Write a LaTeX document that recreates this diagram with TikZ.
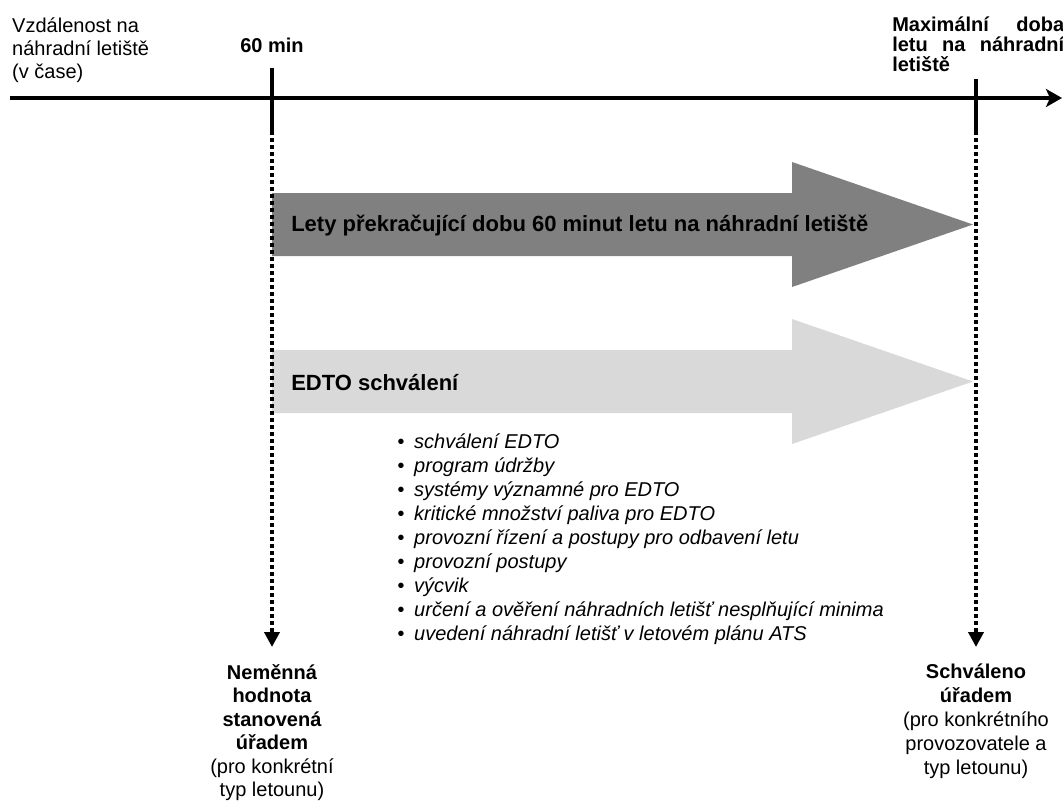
\documentclass[tikz,border=0pt]{standalone}
\usepackage{fontspec}
\setmainfont{Liberation Sans}
\usetikzlibrary{arrows.meta,positioning}
\definecolor{darkbar}{RGB}{128,128,128}
\definecolor{lightbar}{RGB}{217,217,217}

\begin{document}
\begin{tikzpicture}[x=1pt,y=-1pt,line width=4.5pt]
        \tikzstyle{note}=[inner sep=0pt, font=\fontsize{20}{24}\selectfont]
        \tikzstyle{bold note}=[note, font=\fontsize{20}{24}\selectfont\bfseries]
        \tikzstyle{bar text}=[inner sep=0pt, anchor=base west, font=\fontsize{22}{26}\selectfont\bfseries]
        \tikzstyle{list item}=[inner sep=0pt, anchor=base west, font=\fontsize{20}{24}\selectfont\itshape]
        \tikzstyle{dots}=[line width=4pt, dash pattern=on 4pt off 3pt, -{Triangle[length=15pt,width=15pt]}]
        \useasboundingbox (0,0) rectangle (1063,801);

        % Draw the two wide arrows
        \foreach \y/\shade in {224.5/darkbar, 381.5/lightbar}
            \fill[\shade] (272,\y-31.5) -- (792,\y-31.5) -- (792,\y-62.5) -- (973,\y)
                -- (792,\y+62.5) -- (792,\y+31.5) -- (272,\y+31.5) -- cycle;
        \node[bar text] (bar-1) at (289,231) {Lety překračující dobu 60 minut letu na náhradní letiště};
        \node[bar text] (bar-2) at (289,390) {EDTO schválení};

        % Draw the time axis and its marks
        \coordinate (axis-0) at (10,98);
        \coordinate (axis-1) at (1062,98);
        \draw[-{Stealth[length=16pt,width=18pt,inset=4pt]}] (axis-0) -- (axis-1);
        \coordinate (mark-1) at (272,68);
        \coordinate (tick-1) at (272,131);
        \coordinate (mark-2) at (976,79);
        \coordinate (tick-2) at (976,131);
        \draw (mark-1) -- (tick-1);
        \draw (mark-2) -- (tick-2);

        % Annotate the axis
        \node[note, anchor=north west, align=left, font=\fontsize{20}{23}\selectfont] (dist) at (10,16)
            {Vzdálenost na\\ náhradní letiště\\ (v čase)};
        \node[bold note, anchor=base] (m60) at (272,52) {60 min};
        \node[bold note, anchor=north west, text width=172pt, align=left, font=\fontsize{20}{20}\selectfont\bfseries] (maxd) at (890,15)
            {Maximální\hfill doba\\ letu\hfill na\hfill náhradní\\ letiště};

        % Dotted lines down to the notes
        \coordinate (tip-1) at (272,647);
        \coordinate (tip-2) at (976,647);
        \draw[dots] (tick-1) -- (tip-1);
        \draw[dots] (tick-2) -- (tip-2);
        \node[note, anchor=north, align=center, font=\fontsize{20}{23.5}\selectfont] (fix) at (272,662)
            {\textbf{Neměnná}\\ \textbf{hodnota}\\ \textbf{stanovená}\\ \textbf{úřadem}\\ (pro konkrétní\\ typ letounu)};
        \node[note, anchor=north, align=center] (appr) at (976,662)
            {\textbf{Schváleno}\\ \textbf{úřadem}\\ (pro konkrétního\\ provozovatele a\\ typ letounu)};

        % List what the approval covers
        \foreach \txt [count=\i] in {schválení EDTO, program údržby, systémy významné pro EDTO,
                kritické množství paliva pro EDTO, provozní řízení a postupy pro odbavení letu,
                provozní postupy, výcvik, určení a ověření náhradních letišť nesplňující minima,
                uvedení náhradní letišť v letovém plánu ATS}
            \node[list item] (item-\i) at (395,424+24*\i) {\makebox[17pt][l]{•}\txt};
\end{tikzpicture}
\end{document}
